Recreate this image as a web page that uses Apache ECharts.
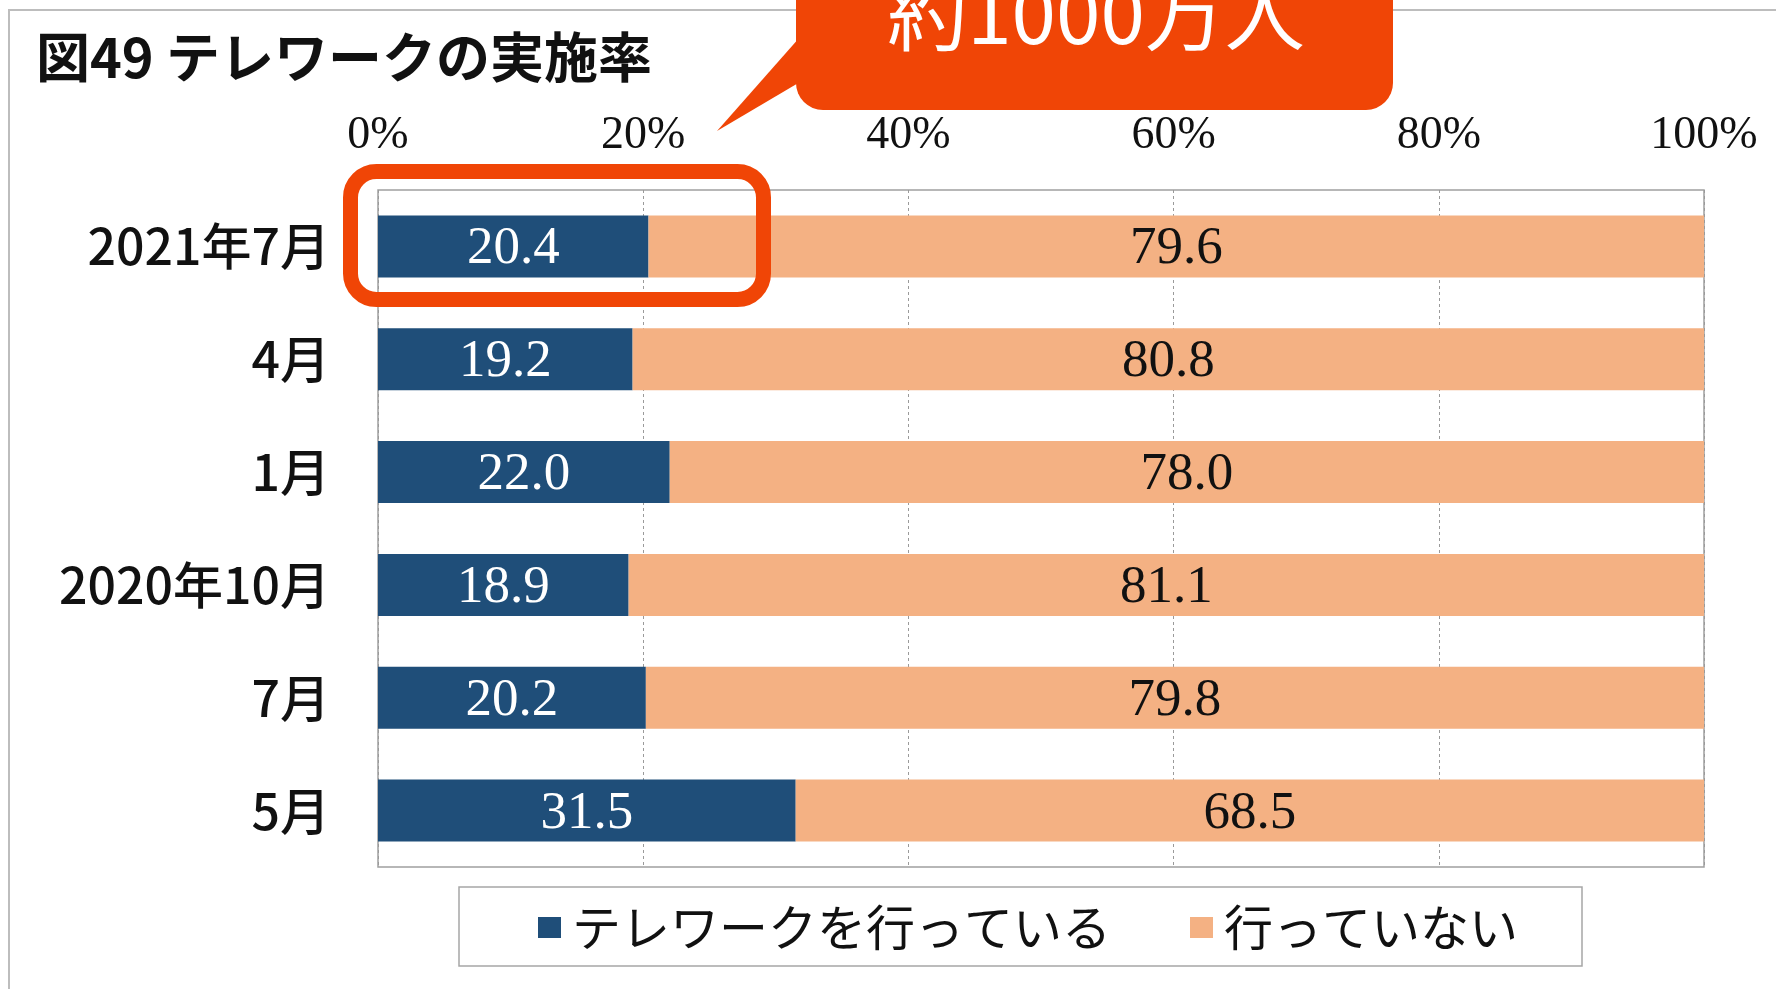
<!DOCTYPE html>
<html>
<head>
<meta charset="utf-8">
<script src="https://cdn.jsdelivr.net/npm/echarts@6/dist/echarts.min.js"></script>
<style>
html,body{margin:0;padding:0;background:#fff;}
#main{width:1776px;height:989px;}
</style>
</head>
<body>
<div id="main"></div>
<script>
const categories = ['2021年7月', '4月', '1月', '2020年10月', '7月', '5月'];
const doingTelework = [20.4, 19.2, 22.0, 18.9, 20.2, 31.5];
const notDoing = [79.6, 80.8, 78.0, 81.1, 79.8, 68.5];
const seriesNames = ['テレワークを行っている', '行っていない'];
const titleText = '図49 テレワークの実施率';
const calloutText = '約1000万人';

const chart = echarts.init(document.getElementById('main'), null, {renderer: 'canvas'});
const serif = '"Liberation Serif", "DejaVu Serif", serif';
const gothic = '"Noto Sans CJK JP", "Noto Sans", sans-serif';
const calloutColor = '#F04506';

chart.setOption({
  backgroundColor: '#ffffff',
  animation: false,
  grid: {
    left: 378, right: 72, top: 190, bottom: 122,
    show: true, borderColor: '#A0A0A0', borderWidth: 1.5, backgroundColor: 'transparent'
  },
  xAxis: {
    type: 'value', position: 'top', min: 0, max: 100, interval: 20,
    axisLine: {show: false}, axisTick: {show: false},
    axisLabel: {formatter: '{value}%', fontFamily: serif, fontSize: 46, color: '#111', margin: 31},
    splitLine: {show: true, lineStyle: {color: '#9A9A9A', type: [3, 3], width: 1}}
  },
  yAxis: {
    type: 'category', data: categories, inverse: true,
    axisLine: {show: false}, axisTick: {show: false},
    axisLabel: {fontFamily: gothic, fontSize: 50, fontWeight: 500, color: '#111', margin: 48}
  },
  legend: {
    left: 538, top: 903, padding: 0, itemGap: 79,
    icon: 'rect', itemWidth: 23, itemHeight: 21,
    textStyle: {fontFamily: gothic, fontSize: 49, color: '#111', lineHeight: 49, padding: [0, 0, 0, 6]},
    data: seriesNames
  },
  series: [
    {
      name: seriesNames[0], type: 'bar', stack: 'total', data: doingTelework, barWidth: 62,
      itemStyle: {color: '#1F4E79'},
      label: {show: true, position: 'inside', offset: [0, 3], fontFamily: serif, fontSize: 53, color: '#ffffff',
        formatter: p => p.value.toFixed(1)}
    },
    {
      name: seriesNames[1], type: 'bar', stack: 'total', data: notDoing, barWidth: 62,
      itemStyle: {color: '#F4B183'},
      label: {show: true, position: 'inside', offset: [0, 3], fontFamily: serif, fontSize: 53, color: '#111',
        formatter: p => p.value.toFixed(1)}
    }
  ],
  graphic: [
    {type: 'polyline', z: 1, silent: true,
      shape: {points: [[9, 989], [9, 10], [1776, 10]]},
      style: {stroke: '#BDBDBD', lineWidth: 2, fill: null}},
    {type: 'text', left: 36, top: 57 - 27, z: 10,
      style: {text: titleText, fontFamily: gothic, fontSize: 54, fontWeight: 'bold', fill: '#111'}},
    {type: 'rect', z: 20, silent: true,
      shape: {x: 459, y: 887, width: 1123, height: 79},
      style: {stroke: '#A6A6A6', lineWidth: 1.5, fill: null}},
    {type: 'rect', z: 30, silent: true,
      shape: {x: 350.5, y: 171.5, width: 413, height: 128, r: 26},
      style: {stroke: calloutColor, lineWidth: 15, fill: null}},
    {type: 'polygon', z: 30, silent: true,
      shape: {points: [[800, 37], [717, 131], [800, 82]]},
      style: {fill: calloutColor}},
    {type: 'rect', z: 31, silent: true,
      shape: {x: 796, y: -40, width: 597, height: 150, r: 27},
      style: {fill: calloutColor}},
    {type: 'text', z: 32, silent: true, x: 1096, y: 14,
      style: {text: calloutText, fontFamily: gothic, fontSize: 80, fill: '#ffffff',
        align: 'center', verticalAlign: 'middle'}}
  ]
});
</script>
</body>
</html>
